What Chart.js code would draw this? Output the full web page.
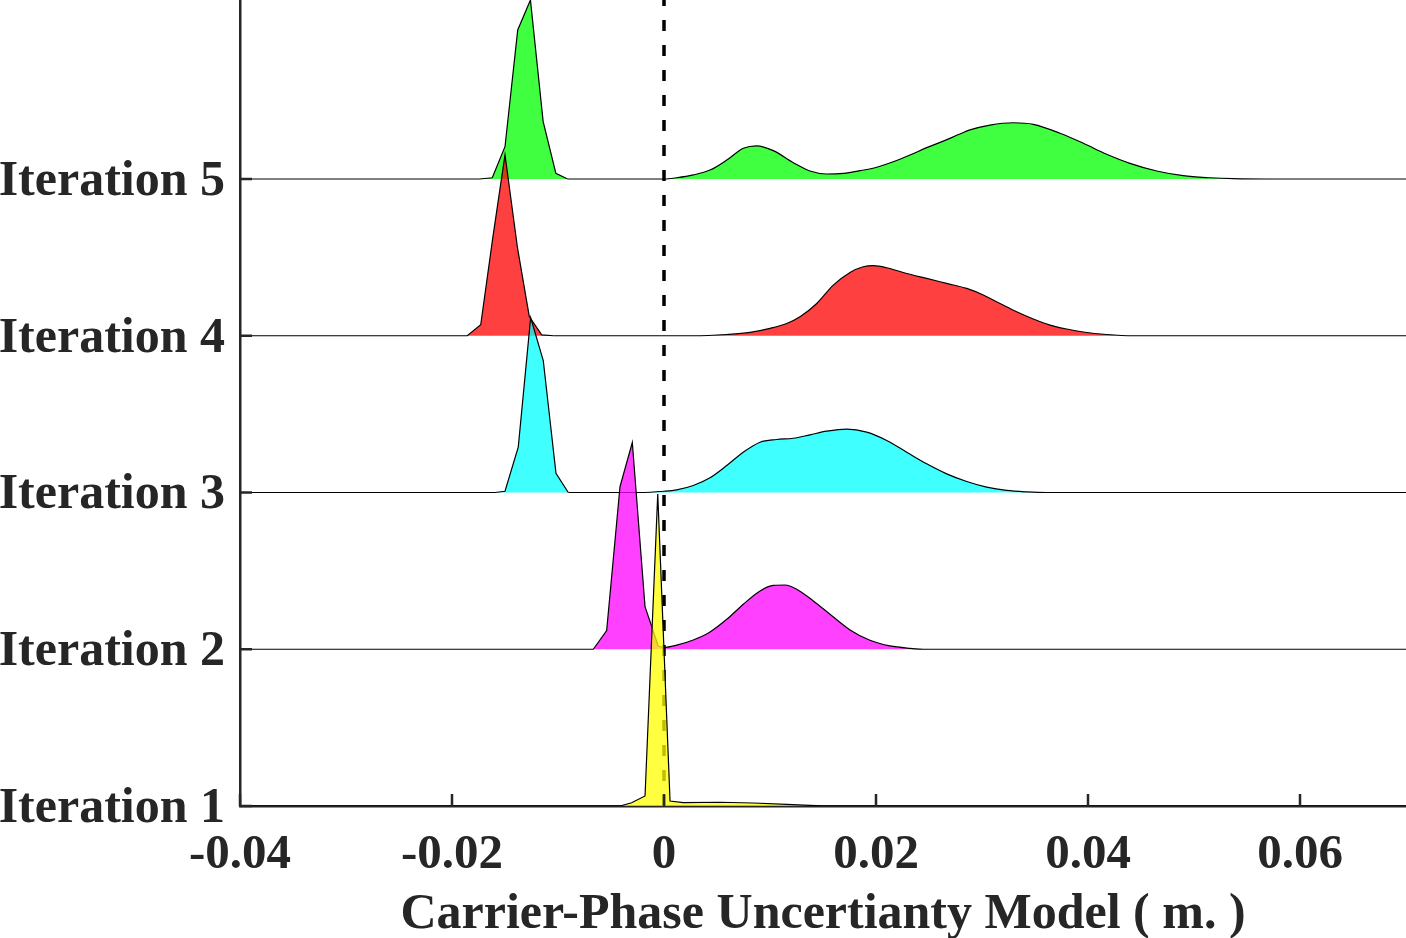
<!DOCTYPE html>
<html>
<head>
<meta charset="utf-8">
<script src="https://cdn.jsdelivr.net/npm/chart.js@4"></script>
<style>
    body { margin: 0; background: #fff; }
</style>
</head>
<body>
<canvas id="ridge" width="1406" height="938"></canvas>
<script>

// labels and ticks
const iterationLabels = ['Iteration 1', 'Iteration 2', 'Iteration 3', 'Iteration 4', 'Iteration 5'];
const xTickValues = [-0.04, -0.02, 0, 0.02, 0.04, 0.06];
const xTickLabels = ['-0.04', '-0.02', '0', '0.02', '0.04', '0.06'];
const xTitle = 'Carrier-Phase Uncertianty Model ( m. )';

// density curves (x in m., height in row units above each baseline)
const iter1X = [-0.00415, -0.00305, -0.00179, -0.00059, 0.00057, 0.00182, 0.00528, 0.00842, 0.01158, 0.01377, 0.01566];
const iter1H = [0, 0.021, 0.064, 1.990, 0.032, 0.021, 0.024, 0.019, 0.011, 0.004, 0];

const iter2X = [-0.00667, -0.00541, -0.00415, -0.00299, -0.00179, -0.00116, -0.00054, 0, 0.0012, 0.00276, 0.00434, 0.00592, 0.00748, 0.00906, 0.01031, 0.01142, 0.01252, 0.01409, 0.01566, 0.01755, 0.01943, 0.02132, 0.02321, 0.02478];
const iter2H = [0, 0.119, 1.038, 1.319, 0.272, 0.145, 0.019, 0.011, 0.026, 0.059, 0.110, 0.191, 0.287, 0.372, 0.408, 0.410, 0.383, 0.308, 0.223, 0.123, 0.057, 0.021, 0.006, 0];

const iter3X = [-0.01594, -0.0150, -0.01375, -0.01258, -0.01139, -0.01019, -0.00903, -0.0023, 0, 0.0012, 0.00276, 0.00434, 0.00592, 0.00748, 0.00906, 0.01063, 0.0122, 0.01377, 0.01535, 0.01724, 0.01912, 0.02101, 0.0229, 0.02478, 0.02667, 0.02856, 0.03044, 0.03233, 0.03421, 0.0361];
const iter3H = [0, 0.008, 0.289, 1.116, 0.842, 0.123, 0, 0, 0.008, 0.017, 0.045, 0.094, 0.172, 0.257, 0.321, 0.338, 0.346, 0.368, 0.391, 0.404, 0.385, 0.332, 0.257, 0.183, 0.119, 0.070, 0.034, 0.013, 0.004, 0];

const iter4X = [-0.01856, -0.01729, -0.01618, -0.0150, -0.01382, -0.01271, -0.01154, -0.0104, 0, 0.00276, 0.00592, 0.00811, 0.01, 0.01158, 0.01283, 0.01441, 0.01597, 0.01755, 0.0188, 0.01975, 0.02101, 0.0229, 0.02478, 0.02667, 0.02856, 0.03012, 0.0317, 0.03327, 0.03484, 0.03642, 0.03799, 0.03956, 0.04176, 0.04427];
const iter4H = [0, 0.070, 0.612, 1.155, 0.560, 0.123, 0.006, 0, 0, 0, 0.008, 0.021, 0.047, 0.078, 0.121, 0.206, 0.323, 0.404, 0.440, 0.447, 0.434, 0.397, 0.366, 0.334, 0.302, 0.260, 0.206, 0.153, 0.107, 0.068, 0.043, 0.024, 0.008, 0];

const iter5X = [-0.0174, -0.0162, -0.0150, -0.0138, -0.0126, -0.0114, -0.0102, -0.0091, 0, 0.0012, 0.00276, 0.00434, 0.00592, 0.00748, 0.00875, 0.01031, 0.0122, 0.01377, 0.01535, 0.01692, 0.01849, 0.02007, 0.02163, 0.02321, 0.02478, 0.02635, 0.02792, 0.02887, 0.03075, 0.03295, 0.03484, 0.03736, 0.03956, 0.04176, 0.04396, 0.04648, 0.04899, 0.05151, 0.05371, 0.05686];
const iter5H = [0, 0.008, 0.206, 0.951, 1.142, 0.366, 0.036, 0, 0, 0.008, 0.026, 0.057, 0.121, 0.196, 0.212, 0.181, 0.104, 0.051, 0.032, 0.036, 0.053, 0.075, 0.110, 0.153, 0.200, 0.242, 0.287, 0.313, 0.344, 0.359, 0.349, 0.292, 0.228, 0.158, 0.100, 0.051, 0.021, 0.008, 0.002, 0];

// how many leading points of each curve belong to the sharp (straight-edged) peak
const peakPoints = [11, 7, 7, 8, 8];

const xMin = -0.04;
const xMax = 0.07;
const yMax = 6.142;

const fillColors = ['rgba(255,255,0,0.75)', 'rgba(255,0,255,0.75)', 'rgba(0,255,255,0.75)', 'rgba(255,0,0,0.75)', 'rgba(0,255,0,0.75)'];
const textColor = '#262626';
const fontFamily = "'Liberation Serif', 'Times New Roman', serif";

const allX = [iter1X, iter2X, iter3X, iter4X, iter5X];
const allH = [iter1H, iter2H, iter3H, iter4H, iter5H];

// each ridge sits on its own baseline, which runs the full width;
// the sharp peak is drawn with straight segments, the wide hump smoothed
let datasets = [];
allX.forEach((xs, i) => {
    const base = i + 1;
    const pts = xs.map((x, j) => ({ x: x, y: base + allH[i][j] }));
    const n = peakPoints[i];
    let peak = [{ x: xMin, y: base }].concat(pts.slice(0, n));
    let hump = pts.slice(n - 1);
    if (n >= pts.length) {
        peak.push({ x: xMax, y: base });
        hump = [];
    } else {
        hump.push({ x: xMax, y: base });
    }
    const order = i == 0 ? 0 : i + 1;
    [peak, hump].forEach((part, k) => {
        if (!part.length) return;
        datasets.push({
            label: iterationLabels[i],
            data: part,
            borderColor: '#000',
            borderWidth: 1.2,
            backgroundColor: fillColors[i],
            fill: { value: base },
            pointRadius: 0,
            tension: 0,
            cubicInterpolationMode: k == 1 ? 'monotone' : 'default',
            order: order
        })
    })
})

// zero reference line
datasets.push({
    label: 'zero',
    data: [{ x: 0, y: yMax }, { x: 0, y: 1 }],
    borderColor: '#000',
    borderWidth: 3.5,
    borderDash: [11, 14],
    borderDashOffset: 5,
    pointRadius: 0,
    fill: false,
    order: 1
})

// tick marks pointing into the plot
const innerTicks = {
    id: 'innerTicks',
    afterDraw(chart) {
        const ctx = chart.ctx;
        const xs = chart.scales.x;
        const ys = chart.scales.y;
        ctx.save();
        ctx.strokeStyle = textColor;
        ctx.lineWidth = 2.5;
        xs.ticks.forEach((t) => {
            const px = xs.getPixelForValue(t.value);
            ctx.beginPath();
            ctx.moveTo(px, ys.bottom);
            ctx.lineTo(px, ys.bottom - 12);
            ctx.stroke();
        })
        ys.ticks.forEach((t) => {
            const py = ys.getPixelForValue(t.value);
            ctx.beginPath();
            ctx.moveTo(xs.left, py);
            ctx.lineTo(xs.left + 12, py);
            ctx.stroke();
        })
        ctx.restore();
    }
}

const chart = new Chart(document.getElementById('ridge'), {
    type: 'line',
    data: { datasets: datasets },
    options: {
        responsive: false,
        animation: false,
        layout: { padding: 0 },
        plugins: {
            legend: { display: false },
            tooltip: { enabled: false }
        },
        scales: {
            x: {
                type: 'linear',
                min: xMin,
                max: xMax,
                grid: { display: false, drawTicks: false },
                border: { display: true, color: textColor, width: 2.5 },
                afterBuildTicks: (scale) => {
                    scale.ticks = xTickValues.map((v) => ({ value: v }));
                },
                afterFit: (scale) => {
                    scale.height = 132;
                    scale.paddingLeft = 0;
                    scale.paddingRight = 0;
                },
                ticks: {
                    color: textColor,
                    padding: 20,
                    maxRotation: 0,
                    autoSkip: false,
                    font: { family: fontFamily, size: 49, weight: 'bold', lineHeight: 1.2 },
                    callback: (value, index) => xTickLabels[index]
                },
                title: {
                    display: true,
                    text: xTitle,
                    color: textColor,
                    padding: 0,
                    font: { family: fontFamily, size: 50, weight: 'bold', lineHeight: 0.92 }
                }
            },
            y: {
                type: 'linear',
                min: 1,
                max: yMax,
                grid: { display: false, drawTicks: false },
                border: { display: true, color: textColor, width: 2.5 },
                afterBuildTicks: (scale) => {
                    scale.ticks = iterationLabels.map((l, i) => ({ value: i + 1 }));
                },
                afterFit: (scale) => {
                    scale.width = 240;
                    scale.paddingTop = 0;
                    scale.paddingBottom = 0;
                },
                ticks: {
                    color: textColor,
                    padding: 15,
                    labelOffset: 3,
                    autoSkip: false,
                    font: { family: fontFamily, size: 50, weight: 'bold' },
                    callback: (value, index) => iterationLabels[index]
                }
            }
        }
    },
    plugins: [innerTicks]
})

</script>
</body>
</html>
